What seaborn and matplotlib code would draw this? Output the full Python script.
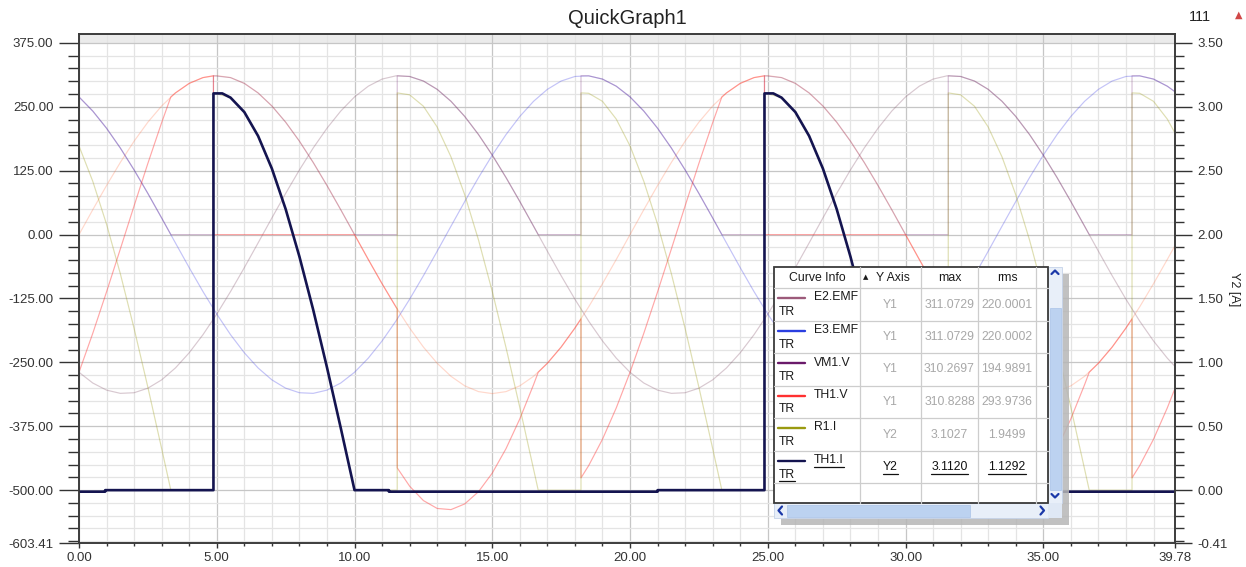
import numpy as np
import matplotlib
matplotlib.use("Agg")
import matplotlib.pyplot as plt
import seaborn as sns
from matplotlib.patches import Rectangle
from matplotlib.ticker import FixedLocator, FuncFormatter

sns.set_theme(style="ticks")
plt.rcParams['font.family'] = ['Liberation Sans', 'DejaVu Sans']

# ---------------- data ----------------
# regular sampling grid (ms) for the source EMFs
t_grid = list(np.arange(0, 39.51, 0.5)) + [39.78]

e1_emf = [0, 48.7, 96.1, 141.2, 182.8, 220.0, 251.7, 277.2, 295.9, 307.2,
          311.1, 307.2, 295.9, 277.2, 251.7, 220.0, 182.8, 141.2, 96.1, 48.7,
          0, -48.7, -96.1, -141.2, -182.8, -220.0, -251.7, -277.2, -295.9, -307.2,
          -311.1, -307.2, -295.9, -277.2, -251.7, -220.0, -182.8, -141.2, -96.1, -48.7,
          0, 48.7, 96.1, 141.2, 182.8, 220.0, 251.7, 277.2, 295.9, 307.2,
          311.1, 307.2, 295.9, 277.2, 251.7, 220.0, 182.8, 141.2, 96.1, 48.7,
          0, -48.7, -96.1, -141.2, -182.8, -220.0, -251.7, -277.2, -295.9, -307.2,
          -311.1, -307.2, -295.9, -277.2, -251.7, -220.0, -182.8, -141.2, -96.1, -48.7,
          -21.5]

e2_emf = [-269.4, -290.4, -304.3, -310.6, -309.4, -300.5, -284.2, -260.9, -231.2, -195.8,
          -155.5, -111.5, -64.7, -16.3, 32.5, 80.5, 126.5, 169.4, 208.1, 241.7,
          269.4, 290.4, 304.3, 310.6, 309.4, 300.5, 284.2, 260.9, 231.2, 195.8,
          155.5, 111.5, 64.7, 16.3, -32.5, -80.5, -126.5, -169.4, -208.1, -241.7,
          -269.4, -290.4, -304.3, -310.6, -309.4, -300.5, -284.2, -260.9, -231.2, -195.8,
          -155.5, -111.5, -64.7, -16.3, 32.5, 80.5, 126.5, 169.4, 208.1, 241.7,
          269.4, 290.4, 304.3, 310.6, 309.4, 300.5, 284.2, 260.9, 231.2, 195.8,
          155.5, 111.5, 64.7, 16.3, -32.5, -80.5, -126.5, -169.4, -208.1, -241.7,
          -257.9]

e3_emf = [269.4, 241.7, 208.1, 169.4, 126.5, 80.5, 32.5, -16.3, -64.7, -111.5,
          -155.5, -195.8, -231.2, -260.9, -284.2, -300.5, -309.4, -310.6, -304.3, -290.4,
          -269.4, -241.7, -208.1, -169.4, -126.5, -80.5, -32.5, 16.3, 64.7, 111.5,
          155.5, 195.8, 231.2, 260.9, 284.2, 300.5, 309.4, 310.6, 304.3, 290.4,
          269.4, 241.7, 208.1, 169.4, 126.5, 80.5, 32.5, -16.3, -64.7, -111.5,
          -155.5, -195.8, -231.2, -260.9, -284.2, -300.5, -309.4, -310.6, -304.3, -290.4,
          -269.4, -241.7, -208.1, -169.4, -126.5, -80.5, -32.5, 16.3, 64.7, 111.5,
          155.5, 195.8, 231.2, 260.9, 284.2, 300.5, 309.4, 310.6, 304.3, 290.4,
          279.5]

th1v_t = [0, 0.5, 1, 1.5, 2, 2.5, 3, 3.333, 3.5, 4, 4.5, 4.88, 4.88, 10, 10.5, 11, 11.5, 11.55,
          11.55, 12, 12.5, 13, 13.5, 14, 14.5, 15, 15.5, 16, 16.5, 16.667, 17, 17.5, 18, 18.22,
          18.22, 18.5, 19, 19.5, 20, 20.5, 21, 21.5, 22, 22.5, 23, 23.333, 23.5, 24, 24.5, 24.88,
          24.88, 30, 30.5, 31, 31.5, 31.55, 31.55, 32, 32.5, 33, 33.5, 34, 34.5, 35, 35.5, 36,
          36.5, 36.667, 37, 37.5, 38, 38.22, 38.22, 38.5, 39, 39.5, 39.78]
th1v_v = [-269.4, -193.1, -112.0, -28.2, 56.3, 139.4, 219.1, 269.4, 277.2, 295.9, 307.2, 310.9, 0,
          0, -48.7, -96.1, -141.2, -145.5,
          -456.4, -492.2, -520.4, -535.8, -538.1, -527.0, -503.0, -466.6, -418.7, -360.5, -293.4,
          -269.4, -251.7, -220.0, -182.8, -165.0,
          -476.0, -451.9, -400.4, -339.1, -269.4, -193.1, -112.0, -28.2, 56.3, 139.4, 219.1, 269.4,
          277.2, 295.9, 307.2, 310.9,
          0, 0, -48.7, -96.1, -141.2, -145.5,
          -456.4, -492.2, -520.4, -535.8, -538.1, -527.0, -503.0, -466.6, -418.7, -360.5,
          -293.4, -269.4, -251.7, -220.0, -182.8, -165.0,
          -476.0, -451.9, -400.4, -339.1, -300.9]

vm1_t = [0, 0.5, 1, 1.5, 2, 2.5, 3, 3.333, 4.88, 4.88, 5.5, 6, 6.5, 7, 7.5, 8, 8.5, 9, 9.5, 10,
         11.55, 11.55, 12, 12.5, 13, 13.5, 14, 14.5, 15, 15.5, 16, 16.5, 16.667,
         18.22, 18.22, 18.5, 19, 19.5, 20, 20.5, 21, 21.5, 22, 22.5, 23, 23.333,
         24.88, 24.88, 25.5, 26, 26.5, 27, 27.5, 28, 28.5, 29, 29.5, 30,
         31.55, 31.55, 32, 32.5, 33, 33.5, 34, 34.5, 35, 35.5, 36, 36.5, 36.667,
         38.22, 38.22, 38.5, 39, 39.5, 39.78]
vm1_v = [269.4, 241.7, 208.1, 169.4, 126.5, 80.5, 32.5, 0, 0, 310.9, 307.2, 295.9, 277.2, 251.7,
         220.0, 182.8, 141.2, 96.1, 48.7, 0,
         0, 310.9, 309.4, 300.5, 284.2, 260.9, 231.2, 195.8, 155.5, 111.5, 64.7, 16.3, 0,
         0, 310.9, 310.6, 304.3, 290.4, 269.4, 241.7, 208.1, 169.4, 126.5, 80.5, 32.5, 0,
         0, 310.9, 307.2, 295.9, 277.2, 251.7, 220.0, 182.8, 141.2, 96.1, 48.7, 0,
         0, 310.9, 309.4, 300.5, 284.2, 260.9, 231.2, 195.8, 155.5, 111.5, 64.7, 16.3, 0,
         0, 310.9, 310.6, 304.3, 290.4, 279.5]

r1i_t = vm1_t
r1i_v = [2.694, 2.417, 2.081, 1.694, 1.265, 0.805, 0.325, 0, 0, 3.109, 3.072, 2.959, 2.772, 2.517,
         2.200, 1.828, 1.412, 0.961, 0.487, 0,
         0, 3.109, 3.094, 3.005, 2.842, 2.609, 2.312, 1.958, 1.555, 1.115, 0.647, 0.163, 0,
         0, 3.109, 3.106, 3.043, 2.904, 2.694, 2.417, 2.081, 1.694, 1.265, 0.805, 0.325, 0,
         0, 3.109, 3.072, 2.959, 2.772, 2.517, 2.200, 1.828, 1.412, 0.961, 0.487, 0,
         0, 3.109, 3.094, 3.005, 2.842, 2.609, 2.312, 1.958, 1.555, 1.115, 0.647, 0.163, 0,
         0, 3.109, 3.106, 3.043, 2.904, 2.795]

th1i_t = [0, 0.95, 0.95, 4.88, 4.88, 5.2, 5.5, 6.0, 6.5, 7.0, 7.5, 8.0, 8.5, 9.0, 9.5, 10.0,
          11.25, 11.25, 21.0, 21.0, 24.88, 24.88, 25.2, 25.5, 26.0, 26.5, 27.0, 27.5, 28.0,
          28.5, 29.0, 29.5, 30.0, 31.25, 31.25, 39.78]
th1i_v = [-0.012, -0.012, 0, 0, 3.105, 3.105, 3.072, 2.959, 2.772, 2.517, 2.200, 1.828, 1.412,
          0.961, 0.487, 0, 0, -0.012, -0.012, 0, 0, 3.105, 3.105, 3.072, 2.959, 2.772, 2.517,
          2.200, 1.828, 1.412, 0.961, 0.487, 0, 0, -0.012, -0.012]

# legend table contents
leg_names = ['E2.EMF', 'E3.EMF', 'VM1.V', 'TH1.V', 'R1.I', 'TH1.I']
leg_axis = ['Y1', 'Y1', 'Y1', 'Y1', 'Y2', 'Y2']
leg_max = ['311.0729', '311.0729', '310.2697', '310.8288', '3.1027', '3.1120']
leg_rms = ['220.0001', '220.0002', '194.9891', '293.9736', '1.9499', '1.1292']
leg_colors = ['#9c5a7a', '#2a3ee0', '#6a1a6a', '#ff3030', '#9a9a10', '#141450']

x_major = [0, 5, 10, 15, 20, 25, 30, 35, 39.78]
y1_major = [-603.41, -500, -375, -250, -125, 0, 125, 250, 375]
y2_major = [-0.41364, 0, 0.5, 1.0, 1.5, 2.0, 2.5, 3.0, 3.5]

# ---------------- figure ----------------
W, H = 1246, 567
fig = plt.figure(figsize=(W / 100, H / 100), dpi=100)
fig.patch.set_facecolor('white')
L, R, T, B = 79, 1175, 34, 543
ax = fig.add_axes([L / W, 1 - B / H, (R - L) / W, (B - T) / H])
Y1_LO, Y1_HI = -603.41, 392.5
ax.set_xlim(0, 39.78)
ax.set_ylim(Y1_LO, Y1_HI)
ax2 = ax.twinx()
ax2.set_ylim((Y1_LO + 500) / 250, (Y1_HI + 500) / 250)

fmt = FuncFormatter(lambda v, p: f"{v:.2f}")
ax.xaxis.set_major_locator(FixedLocator(x_major))
ax.xaxis.set_minor_locator(FixedLocator(list(range(0, 40))))
ax.yaxis.set_major_locator(FixedLocator(y1_major))
ax.yaxis.set_minor_locator(FixedLocator(list(range(-600, 376, 25))))
ax2.yaxis.set_major_locator(FixedLocator(y2_major))
ax2.yaxis.set_minor_locator(FixedLocator([round(-0.4 + 0.1 * i, 2) for i in range(40)]))
for a in (ax.xaxis, ax.yaxis, ax2.yaxis):
    a.set_major_formatter(fmt)

ax.axhspan(375, Y1_HI, color='#ebebeb', zorder=0.2, lw=0)
ax.grid(which='minor', color='#e4e4e4', lw=0.9, zorder=0.3)
ax.grid(which='major', color='#c6c6c6', lw=0.9, zorder=0.4)
ax.set_axisbelow(True)

tick_col = '#333333'
ax.tick_params(axis='y', which='major', left=True, length=14.4, width=1.0, color=tick_col,
               labelsize=9.5, labelcolor=tick_col, pad=4)
ax.tick_params(axis='y', which='minor', left=True, length=7.9, width=1.0, color=tick_col)
ax.tick_params(axis='x', which='major', bottom=True, length=3.6, width=1.0, color=tick_col,
               labelsize=9.5, labelcolor=tick_col, pad=3)
ax.tick_params(axis='x', which='minor', bottom=True, length=2.2, width=1.0, color=tick_col)
ax2.tick_params(axis='y', which='major', right=True, left=False, length=12.2, width=1.0,
                color=tick_col, labelsize=9.5, labelcolor=tick_col, pad=4)
ax2.tick_params(axis='y', which='minor', right=True, left=False, length=6.5, width=1.0,
                color=tick_col)
for a in (ax, ax2):
    for s in a.spines.values():
        s.set_visible(True)
        s.set_color('#3c3c3c')
        s.set_linewidth(1.2)

# faded curves (Y1)
faded = [
    (t_grid, e1_emf, '#ff6a3a', 0.26),
    (t_grid, e2_emf, '#8a5a72', 0.33),
    (t_grid, e3_emf, '#3a3ae6', 0.30),
    (vm1_t, vm1_v, '#6a1a6a', 0.28),
    (th1v_t, th1v_v, '#ff3030', 0.42),
]
for tx, vy, col, al in faded:
    sns.lineplot(x=tx, y=vy, ax=ax, estimator=None, sort=False, color=col, alpha=al,
                 lw=0.85, legend=False)

# Y2 curves
sns.lineplot(x=r1i_t, y=r1i_v, ax=ax2, estimator=None, sort=False, color='#9a9a10',
             alpha=0.32, lw=0.85, legend=False)
sns.lineplot(x=th1i_t, y=th1i_v, ax=ax2, estimator=None, sort=False, color='#141450',
             lw=1.9, legend=False)
ax.set_xlabel(''); ax.set_ylabel(''); ax2.set_ylabel('')

# titles / labels
fig.text(627 / W, 1 - 18 / H, 'QuickGraph1', ha='center', va='center', fontsize=14.5,
         color='#222222')
fig.text(1200 / W, 1 - 17 / H, '111', ha='center', va='center', fontsize=10.5, color='#222222')
fig.text(1239 / W, 1 - 15 / H, '\u25b2', ha='center', va='center', fontsize=7,
         color='#d04848', family='DejaVu Sans')
fig.text(1234 / W, 1 - 289 / H, 'Y2 [A]', rotation=270, ha='center', va='center',
         fontsize=9, color='#222222')

# ---------------- legend table overlay ----------------
ov = fig.add_axes([0, 0, 1, 1])
ov.set_xlim(0, W)
ov.set_ylim(H, 0)
ov.axis('off')
ov.set_zorder(10)

ov.add_patch(Rectangle((781, 274), 288, 251, fc='#b6b6b6', ec='none', alpha=0.85))
ov.add_patch(Rectangle((774, 267), 274, 236, fc='white', ec='none'))
# vertical scrollbar
ov.add_patch(Rectangle((1048, 267), 14, 236, fc='#e8eff9', ec='#c5d3e8', lw=0.6))
ov.add_patch(Rectangle((1049.5, 308), 11, 182, fc='#bcd2f0', ec='#aac3e8', lw=0.5))
ov.plot([1051.5, 1055, 1058.5], [274, 270.5, 274], color='#1a38a8', lw=1.6,
        solid_capstyle='round')
ov.plot([1051.5, 1055, 1058.5], [494, 497.5, 494], color='#1a38a8', lw=1.6,
        solid_capstyle='round')
# horizontal scrollbar
ov.add_patch(Rectangle((774, 503), 274, 15, fc='#e8eff9', ec='#c5d3e8', lw=0.6))
ov.add_patch(Rectangle((787, 504.5), 183, 12, fc='#bcd2f0', ec='#aac3e8', lw=0.5))
ov.plot([782, 778.5, 782], [506.5, 510.5, 514.5], color='#1a38a8', lw=1.6,
        solid_capstyle='round')
ov.plot([1040.5, 1044, 1040.5], [506.5, 510.5, 514.5], color='#1a38a8', lw=1.6,
        solid_capstyle='round')
ov.add_patch(Rectangle((1048, 503), 14, 15, fc='#dfe8f5', ec='none'))

grid_c = '#cdcdcd'
for xc in (860, 921, 978, 1036):
    ov.plot([xc, xc], [267, 503], color=grid_c, lw=0.9)
row_tops = [288 + 32.5 * i for i in range(7)]
for yc in row_tops:
    ov.plot([774, 1048], [yc, yc], color=grid_c, lw=0.9)
ov.add_patch(Rectangle((774, 267), 274, 236, fc='none', ec='#3a3a3a', lw=1.3))

FS = 8.8
hdr_kw = dict(fontsize=FS, color='#1a1a1a', va='center')
ov.text(817, 278, 'Curve Info', ha='center', **hdr_kw)
ov.text(866, 277, '\u25b2', ha='center', va='center', fontsize=5, color='#1a1a1a',
        family='DejaVu Sans')
ov.text(893, 278, 'Y Axis', ha='center', **hdr_kw)
ov.text(949.5, 278, 'max', ha='center', **hdr_kw)
ov.text(1007, 278, 'rms', ha='center', **hdr_kw)

underline_texts = []
for i, name in enumerate(leg_names):
    top = row_tops[i]
    last = (i == len(leg_names) - 1)
    ov.plot([778, 805], [top + 10, top + 10], color=leg_colors[i], lw=1.7)
    tn = ov.text(814, top + 9.5, name, ha='left', va='center', fontsize=FS, color='#1a1a1a')
    tt = ov.text(779, top + 24, 'TR', ha='left', va='center', fontsize=FS, color='#1a1a1a')
    vc = '#111111' if last else '#a8a8a8'
    ta = ov.text(890.5, top + 16.5, leg_axis[i], ha='center', va='center', fontsize=FS, color=vc)
    tm = ov.text(949.5, top + 16.5, leg_max[i], ha='center', va='center', fontsize=FS, color=vc)
    tr = ov.text(1007, top + 16.5, leg_rms[i], ha='center', va='center', fontsize=FS, color=vc)
    if last:
        underline_texts = [tn, tt, ta, tm, tr]

fig.canvas.draw()
rend = fig.canvas.get_renderer()
inv = ov.transData.inverted()
for txt in underline_texts:
    bb = txt.get_window_extent(renderer=rend)
    (x0, y0), (x1, y1) = inv.transform([(bb.x0, bb.y0), (bb.x1, bb.y1)])
    ov.plot([x0, x1], [y0 + 0.5, y0 + 0.5], color='#111111', lw=0.9)

fig.savefig('out.png', dpi=100, facecolor='white')
